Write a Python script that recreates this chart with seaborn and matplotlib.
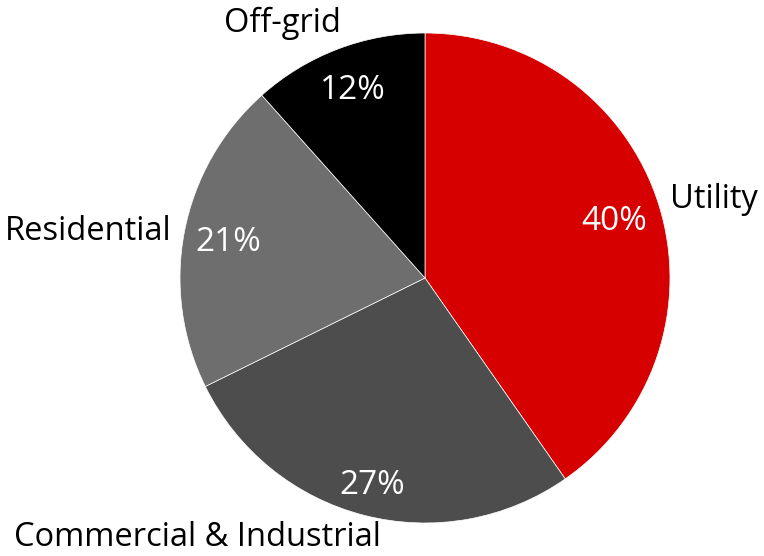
import matplotlib
matplotlib.use("Agg")
import matplotlib.pyplot as plt
import seaborn as sns
import numpy as np

sns.set_style("white")
plt.rcParams['font.family'] = ['Open Sans', 'DejaVu Sans']

categories = ["Utility", "Commercial & Industrial", "Residential", "Off-grid"]
shares = [40.3, 27.4, 20.7, 11.6]
colors = ["#d70000", "#4d4d4d", "#6e6e6e", "#000000"]

# label placement (axes data units, radius = 1)
label_pos = {
    "Utility": (1.0, 0.32, "left", "center"),
    "Commercial & Industrial": (-0.93, -1.128, "center", "bottom"),
    "Residential": (-1.033, 0.188, "right", "center"),
    "Off-grid": (-0.58, 1.04, "center", "center"),
}
pct_dist = [0.81, 0.86, 0.82, 0.83]

fig = plt.figure(figsize=(7.64, 5.56), dpi=100)
cx, cy, r = 425, 278, 245
W, H = 764, 556
ax = fig.add_axes([(cx - r) / W, (H - cy - r) / H, 2 * r / W, 2 * r / H])

wedges, texts, autotexts = ax.pie(
    shares, colors=colors, startangle=90, counterclock=False,
    autopct=lambda p: f"{p:.0f}%", pctdistance=0.82,
    wedgeprops=dict(edgecolor="white", linewidth=0.5),
    textprops=dict(color="white", fontsize=24),
    radius=1.0,
)
for w, t, d in zip(wedges, autotexts, pct_dist):
    ang = np.deg2rad((w.theta1 + w.theta2) / 2)
    t.set_position((d * np.cos(ang), d * np.sin(ang) - 0.012))

ax.set_xlim(-1, 1)
ax.set_ylim(-1, 1)
ax.set_aspect("equal")

for cat in categories:
    x, y, ha, va = label_pos[cat]
    ax.text(x, y, cat, ha=ha, va=va, fontsize=23.5, color="black", clip_on=False)

fig.savefig("out.png", dpi=100)
